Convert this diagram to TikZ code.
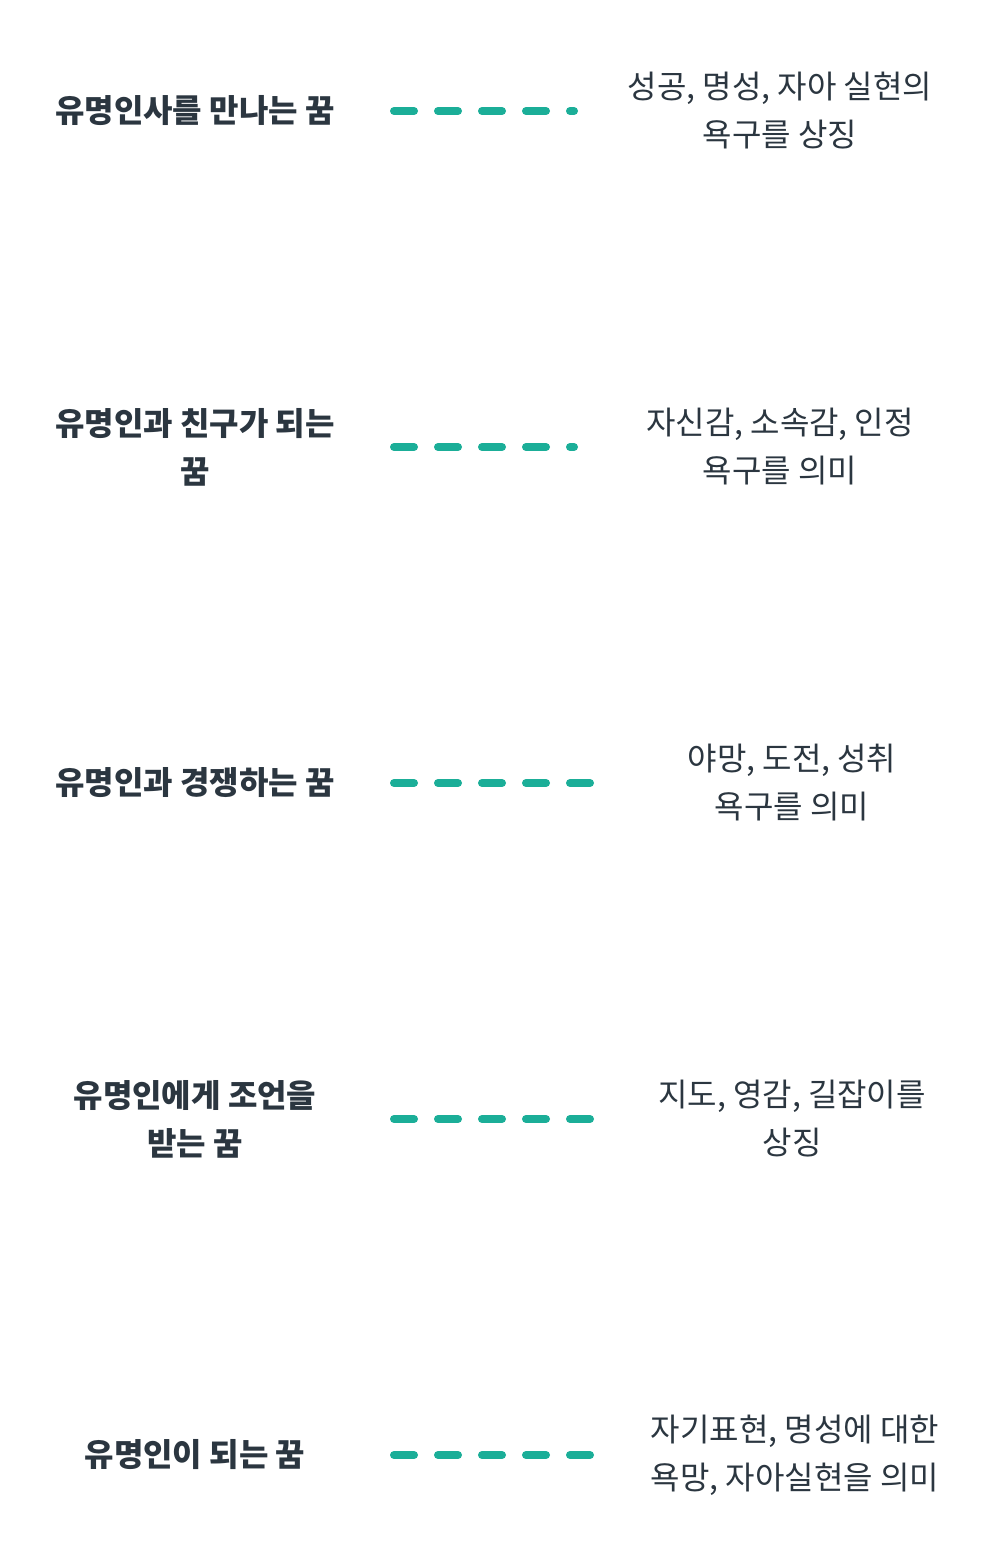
\documentclass[tikz,border=0pt]{standalone}
\usepackage{fontspec}
\setmainfont{Noto Sans CJK KR}
\definecolor{ink}{HTML}{2B3640}
\definecolor{teal}{HTML}{1BAE98}
\tikzstyle{dream}=[font=\fontsize{32}{48}\selectfont\bfseries, text=ink, align=center]
\tikzstyle{meaning}=[font=\fontsize{32}{48}\selectfont, text=ink, align=center]
\tikzstyle{link}=[draw=teal, line width=8pt, line cap=round, dash pattern=on 20pt off 24pt]
\begin{document}
\begin{tikzpicture}[x=1pt,y=-1pt]
  \useasboundingbox (0,0) rectangle (992,1568);
  % left column
  \node[dream] (d1) at (195,111) {유명인사를 만나는 꿈};
  \node[dream] (d2) at (195,447) {유명인과 친구가 되는\\꿈};
  \node[dream] (d3) at (195,783) {유명인과 경쟁하는 꿈};
  \node[dream] (d4) at (195,1119) {유명인에게 조언을\\받는 꿈};
  \node[dream] (d5) at (195,1455) {유명인이 되는 꿈};
  % right column
  \node[meaning] (m1) at (780,111) {성공, 명성, 자아 실현의\\욕구를 상징};
  \node[meaning] (m2) at (780,447) {자신감, 소속감, 인정\\욕구를 의미};
  \node[meaning] (m3) at (792,783) {야망, 도전, 성취\\욕구를 의미};
  \node[meaning] (m4) at (792,1119) {지도, 영감, 길잡이를\\상징};
  \node[meaning] (m5) at (795,1455) {자기표현, 명성에 대한\\욕망, 자아실현을 의미};
  % dashed connectors
  \coordinate (a1) at (394,111); \coordinate (b1) at (574,111);
  \coordinate (a2) at (394,447); \coordinate (b2) at (574,447);
  \coordinate (a3) at (394,783); \coordinate (b3) at (590,783);
  \coordinate (a4) at (394,1119); \coordinate (b4) at (590,1119);
  \coordinate (a5) at (394,1455); \coordinate (b5) at (590,1455);
  \foreach \i in {1,...,5}
    \draw[link] (a\i) -- (b\i);
\end{tikzpicture}
\end{document}
